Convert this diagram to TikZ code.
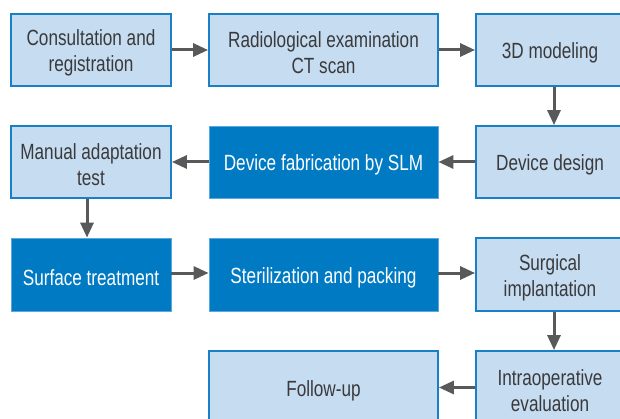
\documentclass[tikz,border=0pt]{standalone}
\usepackage{fontspec}
\setmainfont{Liberation Sans}[FakeStretch=0.78]
\usetikzlibrary{arrows.meta,calc}
\definecolor{lightfill}{HTML}{C6DCF0}
\definecolor{lightedge}{HTML}{1A80C6}
\definecolor{darkfill}{HTML}{007BC3}
\definecolor{darkedge}{HTML}{5AA8DE}
\definecolor{arrowgray}{HTML}{58595B}
\definecolor{txt}{HTML}{3A3A3C}
\newcommand{\topstrut}{\rule{0pt}{22pt}}
\begin{document}
\begin{tikzpicture}[x=1pt,y=-1pt,
  basebox/.style={rectangle,inner sep=0pt,align=center,
    font=\fontsize{22}{26}\selectfont},
  lightbox/.style={basebox,fill=lightfill,draw=lightedge,line width=1.8pt,text=txt},
  darkbox/.style={basebox,fill=darkfill,draw=darkedge,line width=0.8pt,text=white},
  arr/.style={draw=arrowgray,line width=3pt,-{Triangle[length=15pt,width=13pt]}}]
\useasboundingbox (0,0) rectangle (620,419);
\clip (0,0) rectangle (620,419);
% row 1
\node[lightbox,minimum width=160pt,minimum height=72pt] (cr) at (91,50) {\topstrut Consultation and\\registration};
\node[lightbox,minimum width=229pt,minimum height=72pt] (re) at (323.5,50) {\topstrut Radiological examination\\CT scan};
\node[lightbox,minimum width=148pt,minimum height=72pt] (td) at (550,50) {\topstrut 3D modeling};
% row 2
\node[lightbox,minimum width=160pt,minimum height=72pt] (ma) at (91,162) {\topstrut Manual adaptation\\test};
\node[darkbox,minimum width=229pt,minimum height=72pt] (df) at (323.5,162) {\topstrut Device fabrication by SLM};
\node[lightbox,minimum width=148pt,minimum height=72pt] (dd) at (550,162) {\topstrut Device design};
% row 3
\node[darkbox,minimum width=160pt,minimum height=73pt] (st) at (91,274.5) {\topstrut Surface treatment};
\node[darkbox,minimum width=229pt,minimum height=73pt] (sp) at (323.5,274.5) {\topstrut Sterilization and packing};
\node[lightbox,minimum width=148pt,minimum height=73pt] (si) at (550,274.5) {\topstrut Surgical\\implantation};
% row 4
\node[lightbox,minimum width=229pt,minimum height=73pt] (fu) at (323.5,387.5) {\topstrut Follow-up};
\node[lightbox,minimum width=148pt,minimum height=73pt] (ie) at (550,387.5) {\topstrut Intraoperative\\evaluation};
% arrows
\draw[arr] (cr.east) -- (re.west);
\draw[arr] (re.east) -- (td.west);
\draw[arr] ([xshift=4pt]td.south) -- ([xshift=4pt]dd.north);
\draw[arr] (dd.west) -- (df.east);
\draw[arr] (df.west) -- (ma.east);
\draw[arr] ([xshift=-4pt]ma.south) -- ([xshift=-4pt]st.north);
\draw[arr] ([yshift=1.5pt]st.east) -- ([yshift=1.5pt]sp.west);
\draw[arr] ([yshift=1.5pt]sp.east) -- ([yshift=1.5pt]si.west);
\draw[arr] ([xshift=4pt]si.south) -- ([xshift=4pt]ie.north);
\draw[arr] (ie.west) -- (fu.east);
\end{tikzpicture}
\end{document}
